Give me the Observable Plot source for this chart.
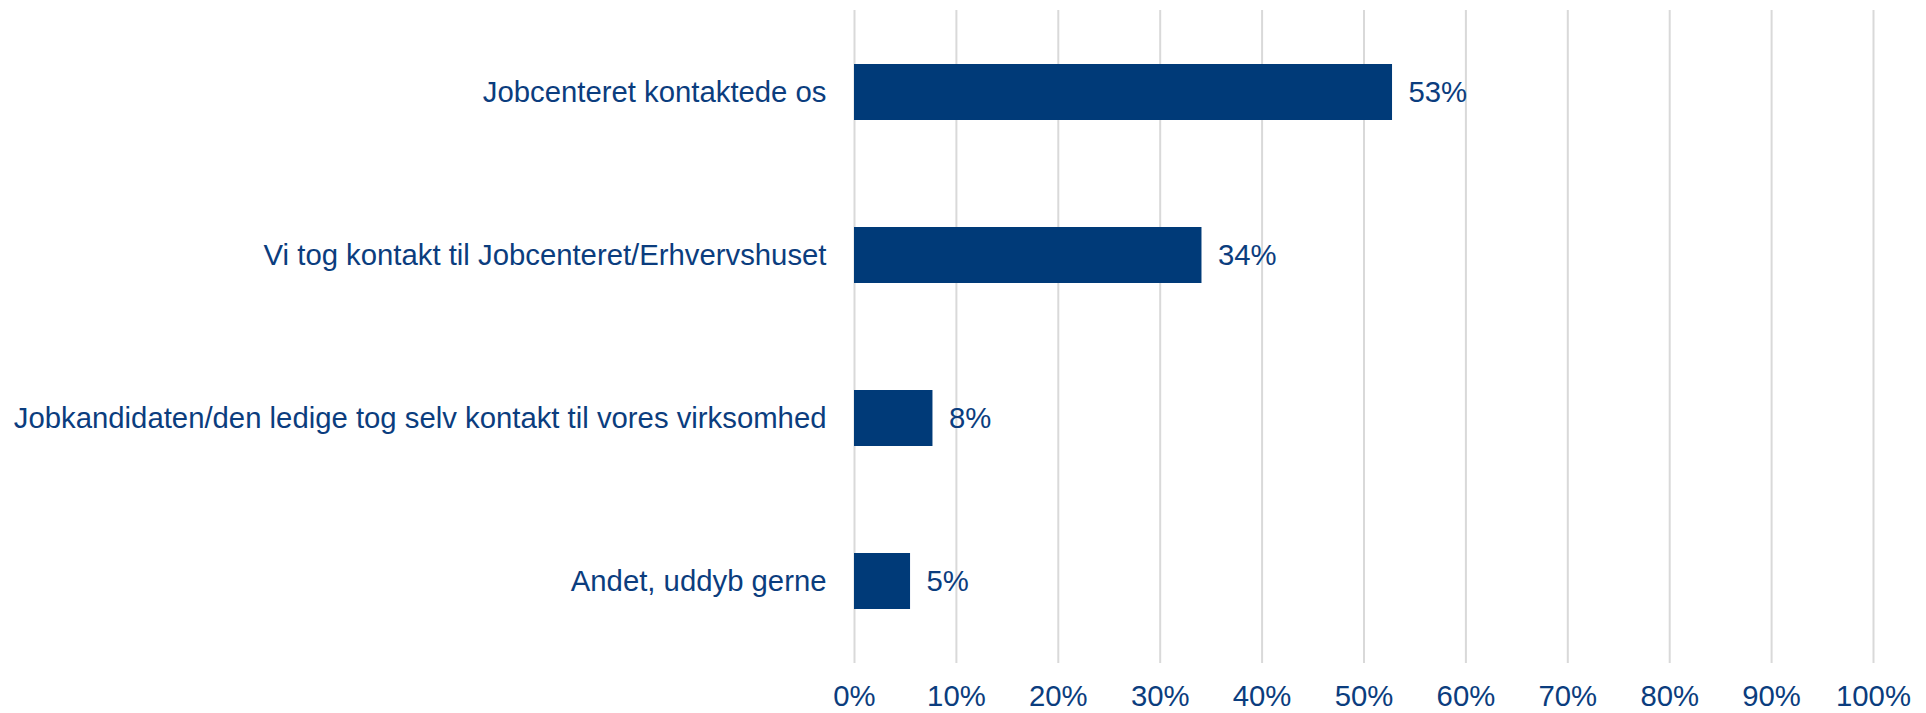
<!DOCTYPE html>
<html>
<head>
<meta charset="utf-8">
<script src="https://cdn.jsdelivr.net/npm/d3@7"></script>
<script src="https://cdn.jsdelivr.net/npm/@observablehq/plot@0.6"></script>
<style>
  html, body { margin: 0; padding: 0; background: #fff; }
  #chart svg { display: block; }
</style>
</head>
<body>
<div id="chart"></div>
<script>
const categories = [
  "Jobcenteret kontaktede os",
  "Vi tog kontakt til Jobcenteret/Erhvervshuset",
  "Jobkandidaten/den ledige tog selv kontakt til vores virksomhed",
  "Andet, uddyb gerne"
];
const values = [0.528, 0.341, 0.077, 0.055];
const valueLabels = ["53%", "34%", "8%", "5%"];
const xTicks = [0, 0.1, 0.2, 0.3, 0.4, 0.5, 0.6, 0.7, 0.8, 0.9, 1.0];

const data = categories.map((c, i) => ({ category: c, value: values[i], label: valueLabels[i] }));

const color = "#003A78";
const textColor = "#0B3D7E";
const fs = 29.3;
const chart = Plot.plot({
  width: 1926,
  height: 713,
  marginLeft: 854,
  marginRight: 53,
  marginTop: 10,
  marginBottom: 50,
  style: { fontFamily: "'Liberation Sans', Arial, sans-serif", fontSize: fs + "px", color: textColor, background: "#fff" },
  x: { domain: [0, 1], ticks: xTicks, tickFormat: d => Math.round(d * 100) + "%", label: null },
  y: { domain: categories, label: null, paddingInner: 0.654, paddingOuter: 0.325 },
  marks: [
    Plot.gridX(xTicks, { stroke: "#d9d9d9", strokeOpacity: 1, strokeWidth: 2 }),
    Plot.axisX(xTicks, { tickSize: 0, tickPadding: 22, tickFormat: d => Math.round(d * 100) + "%", fontSize: fs, fill: textColor, label: null }),
    Plot.axisY({ tickSize: 0, tickPadding: 28, fontSize: fs, fill: textColor, label: null }),
    Plot.barX(data, { y: "category", x: "value", fill: color }),
    Plot.text(data, { y: "category", x: "value", text: "label", textAnchor: "start", dx: 16, fontSize: fs, fill: textColor })
  ]
});
document.getElementById("chart").appendChild(chart);
</script>
</body>
</html>
